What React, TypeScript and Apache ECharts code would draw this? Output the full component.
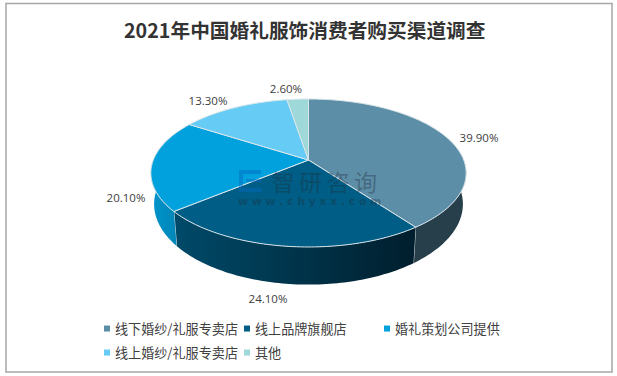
import React, { useEffect, useRef } from "react";
import * as echarts from "echarts";

const titleText = "2021年中国婚礼服饰消费者购买渠道调查";
const categories = ["线下婚纱/礼服专卖店", "线上品牌旗舰店", "婚礼策划公司提供", "线上婚纱/礼服专卖店", "其他"];
const shares = [39.9, 24.1, 20.1, 13.3, 2.6];
const watermarkChars = ["智", "研", "咨", "询"];

const topColors = ["#5d8ea8", "#005d85", "#00a1dc", "#66ccf5", "#9fd8d8"];
const sideColors: any[] = [
  "#273f4a",
  {
    type: "linear", x: 0, y: 0, x2: 1, y2: 0,
    colorStops: [
      { offset: 0, color: "#004a69" },
      { offset: 0.5, color: "#00344b" },
      { offset: 1, color: "#001e2d" },
    ],
  },
  {
    type: "linear", x: 0, y: 0, x2: 1, y2: 0,
    colorStops: [
      { offset: 0, color: "#0094cb" },
      { offset: 1, color: "#0086b8" },
    ],
  },
  "#3f9fc8",
  "#6fa8a8",
];

const labelAnchors = [[479, 137], [268, 298], [126, 197], [208, 100], [286, 88]];
const legendAnchors = [[104, 322], [244, 322], [384, 322], [104, 346], [244, 346]];

const CX = 308.5;
const K = -0.1756;
const topPlane = { cy: 160, rx: 155.2, ry: 71.7 };
const basePlane = { cy: 190, rx: 152, ry: 78 };

function project(plane: { cy: number; rx: number; ry: number }, theta: number) {
  const u = Math.sin(theta);
  const v = -Math.cos(theta);
  const d = 1 + K * v;
  return [CX + (plane.rx * u) / d, plane.cy + (plane.ry * v) / d];
}

function arc(plane: any, a: number, b: number) {
  const n = Math.max(2, Math.ceil(Math.abs(b - a) / 0.02));
  const pts: number[][] = [];
  for (let i = 0; i <= n; i++) pts.push(project(plane, a + ((b - a) * i) / n));
  return pts;
}

const total = shares.reduce((s, v) => s + v, 0);
const FRONT_A = (85 * Math.PI) / 180;
const FRONT_B = (275 * Math.PI) / 180;

function makeRenderItem(index: number) {
  return (_params: any, api: any) => {
    const value = api.value(0);
    const before = shares.slice(0, index).reduce((s, v) => s + v, 0);
    const a = (before / total) * 2 * Math.PI;
    const b = ((before + value) / total) * 2 * Math.PI;
    const children: any[] = [];
    const sa = Math.max(a, FRONT_A);
    const sb = Math.min(b, FRONT_B);
    if (sb > sa) {
      const pts = [...arc(topPlane, sa, sb), ...arc(basePlane, sb, sa)];
      children.push({
        type: "polygon",
        shape: { points: pts },
        style: { fill: sideColors[index], stroke: null },
      });
      if (b <= FRONT_B) {
        const p1 = project(topPlane, b);
        const p2 = project(basePlane, b);
        children.push({
          type: "line",
          shape: { x1: p1[0], y1: p1[1], x2: p2[0], y2: p2[1] },
          style: { stroke: "#c9d3d8", lineWidth: 1 },
        });
      }
    }
    children.push({
      type: "polygon",
      shape: { points: [[CX, topPlane.cy], ...arc(topPlane, a, b)] },
      style: { fill: topColors[index], stroke: "#dbe6ea", lineWidth: 1 },
    });
    children.push({
      type: "text",
      style: {
        text: value.toFixed(2) + "%",
        x: labelAnchors[index][0],
        y: labelAnchors[index][1],
        align: "center",
        verticalAlign: "middle",
        fill: "#404040",
        font: '11.5px "Open Sans", "Noto Sans", sans-serif',
      },
    });
    return { type: "group", children };
  };
}

export default function App() {
  const ref = useRef<HTMLDivElement>(null);
  useEffect(() => {
    document.body.style.margin = "0";
    const chart = echarts.init(ref.current!, undefined, { renderer: "svg" });
    const wmFill = "rgba(30,45,58,0.38)";
    const logoFill = "rgba(0,105,190,0.45)";
    chart.setOption({
      animation: false,
      backgroundColor: "#ffffff",
      title: {
        text: titleText,
        left: 119,
        top: 15,
        textStyle: {
          fontFamily: '"Noto Sans CJK SC", sans-serif',
          fontSize: 19.7,
          fontWeight: "bold",
          color: "#333333",
        },
      },
      legend: categories.map((name, i) => ({
        data: [{ name, icon: "rect" }],
        left: legendAnchors[i][0],
        top: legendAnchors[i][1],
        padding: 0,
        itemWidth: 6,
        itemHeight: 6,
        itemGap: 0,
        selectedMode: false,
        textStyle: {
          fontFamily: '"Noto Sans CJK SC", sans-serif',
          fontSize: 13.1,
          color: "#404040",
        },
      })),
      series: categories.map((name, i) => ({
        type: "custom",
        name,
        coordinateSystem: "none",
        silent: true,
        itemStyle: { color: topColors[i] },
        data: [[shares[i]]],
        renderItem: makeRenderItem(i),
      })),
      graphic: [
        {
          type: "rect",
          z: 20,
          silent: true,
          shape: { x: 6, y: 3.5, width: 606, height: 368.5 },
          style: { fill: "transparent", stroke: "#a6a6a6", lineWidth: 1.5 },
        },
        ...watermarkChars.map((ch, i) => ({
          type: "text",
          z: 20,
          silent: true,
          style: {
            text: ch,
            x: 283 + i * 27.5,
            y: 180.5,
            align: "center",
            verticalAlign: "middle",
            fill: wmFill,
            font: '23px "Noto Sans CJK SC", sans-serif',
          },
        })),
        {
          type: "text",
          z: 20,
          silent: true,
          style: {
            text: "w w w . c h y x x . c o m",
            x: 238,
            y: 196,
            verticalAlign: "top",
            fill: wmFill,
            font: 'bold 10.8px "DejaVu Sans", sans-serif',
          },
        },
        { type: "rect", z: 20, silent: true, shape: { x: 239, y: 170, width: 22, height: 4 }, style: { fill: logoFill } },
        { type: "rect", z: 20, silent: true, shape: { x: 239, y: 174, width: 4, height: 18 }, style: { fill: logoFill } },
        { type: "rect", z: 20, silent: true, shape: { x: 246, y: 179, width: 15, height: 3 }, style: { fill: logoFill } },
        { type: "rect", z: 20, silent: true, shape: { x: 243, y: 188, width: 19, height: 4 }, style: { fill: logoFill } },
      ],
    });
    return () => chart.dispose();
  }, []);
  return <div ref={ref} style={{ position: "fixed", left: 0, top: 0, width: 617, height: 376 }} />;
}
